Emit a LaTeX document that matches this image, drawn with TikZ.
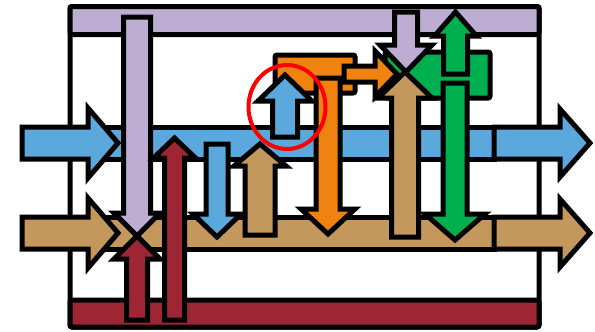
\documentclass[tikz,border=0pt]{standalone}
\definecolor{lav}{RGB}{189,173,210}
\definecolor{skyb}{RGB}{90,168,220}
\definecolor{tanc}{RGB}{196,152,92}
\definecolor{crim}{RGB}{158,37,52}
\definecolor{orng}{RGB}{240,130,15}
\definecolor{grn}{RGB}{0,176,80}
% vertical block arrow: colour, x centre, tail y, tip y, body half, head half, head base y
\newcommand{\VArr}[7]{%
  \draw[blk,fill=#1] ({#2-#5},#3) -- ({#2-#5},#7) -- ({#2-#6},#7) -- (#2,#4) -- ({#2+#6},#7) -- ({#2+#5},#7) -- ({#2+#5},#3) -- cycle;}
% horizontal block arrow: colour, y centre, tail x, tip x, body half, head half, head base x
\newcommand{\HArr}[7]{%
  \draw[blk,fill=#1] (#3,{#2-#5}) -- (#7,{#2-#5}) -- (#7,{#2-#6}) -- (#4,#2) -- (#7,{#2+#6}) -- (#7,{#2+#5}) -- (#3,{#2+#5}) -- cycle;}
\begin{document}
\begin{tikzpicture}[x=1pt,y=-1pt,
  blk/.style={draw=black,line width=5pt,line join=miter,miter limit=10},
  band/.style={blk,rounded corners=2pt}]
\useasboundingbox (0,0) rectangle (595,332);
% frame
\draw[band,fill=white] (70,6.5) rectangle (539,327);
\draw[band,fill=lav] (70,6.5) rectangle (539,34.5);
\draw[band,fill=crim] (70,300) rectangle (539,327);
% streams
\draw[blk,fill=skyb] (100,127) rectangle (494,159);
\draw[blk,fill=tanc] (100,217) rectangle (494,249);
% lavender and crimson crossing
\VArr{lav}{137}{17}{236}{13.5}{23}{213}
\VArr{crim}{137}{320}{236}{10.5}{23}{259}
\VArr{crim}{174.5}{320}{138}{10}{21}{158}
% small arrows
\VArr{skyb}{217}{144}{237}{11}{24}{214}
\VArr{tanc}{260}{235}{144}{15}{26}{166}
% orange group
\draw[band,fill=orng] (275,55) rectangle (355,93);
\VArr{orng}{328}{78}{234}{12}{27}{209}
\VArr{skyb}{285}{137}{75}{12.5}{27}{101}
% green group
\draw[band,fill=grn] (385,52) rectangle (490,98);
\HArr{orng}{74}{344}{397}{8}{23}{375}
\VArr{grn}{455.5}{74}{12}{12}{21}{36}
\VArr{grn}{455}{83}{240}{12}{30}{214}
\VArr{lav}{406}{12}{72}{11.5}{26}{45}
\VArr{tanc}{405}{237}{72}{13.5}{27}{98}
% in and out arrows
\HArr{skyb}{143}{22}{118}{16}{35}{88}
\HArr{tanc}{233}{22}{118}{16}{35}{88}
\HArr{skyb}{143}{494}{590}{16}{34}{560}
\HArr{tanc}{233}{494}{590}{16}{34}{560}
% highlight
\draw[red,line width=4pt] (287,107) ellipse [x radius=38.5pt, y radius=42pt];
\end{tikzpicture}
\end{document}
